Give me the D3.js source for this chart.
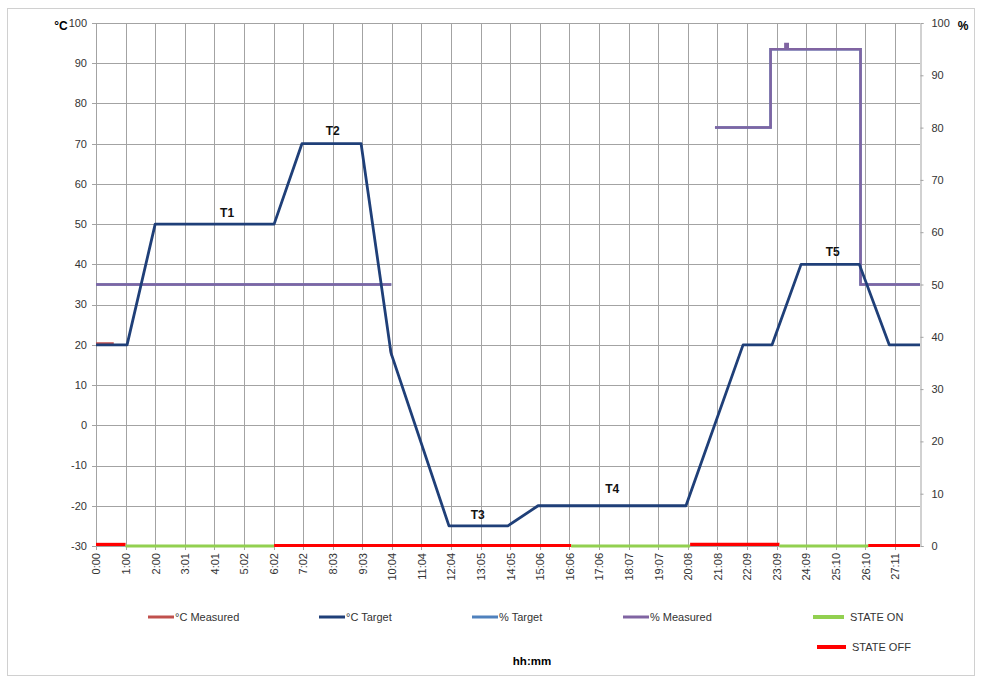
<!DOCTYPE html>
<html>
<head>
<meta charset="utf-8">
<script src="https://cdn.jsdelivr.net/npm/d3@7"></script>
<style>
  body { margin: 0; background: #fff; }
  svg { font-family: "Liberation Sans", Arial, sans-serif; }
</style>
</head>
<body>
<div id="chart"></div>
<script>
// x axis labels, one per gridline (index = hours elapsed)
const timeLabels = ["0:00","1:00","2:00","3:01","4:01","5:02","6:02","7:02","8:03","9:03",
  "10:04","11:04","12:04","13:05","14:05","15:06","16:06","17:06","18:07","19:07",
  "20:08","21:08","22:09","23:09","24:09","25:10","26:10","27:11"];
const xEnd = 27.85;

const tempTicks = [-30,-20,-10,0,10,20,30,40,50,60,70,80,90,100];
const pctTicks = [0,10,20,30,40,50,60,70,80,90,100];

// °C Target
const targetHours = [0,1.05,2.0,6.02,6.96,8.96,9.97,11.93,13.92,14.94,19.94,21.87,22.85,23.83,25.8,26.81,27.85];
const targetTemp  = [20,20,50,50,70,70,18,-25,-25,-20,-20,20,20,40,40,20,20];

// °C Measured (only slivers visible under target)
const measHours = [0,0.6,null,9.93,10.0];
const measTemp  = [20.4,20.4,null,19.5,17.2];

// % Measured (null = gap)
const pctHours  = [0,9.98,null,20.92,22.8,22.8,23.3,23.3,23.38,23.38,25.84,25.84,27.85];
const pctValues = [50,50,null,80,80,95,95,96,96,95,95,50,50];

// % Target (hidden below % Measured)
const pctTargetHours  = [0,9.98,null,20.92,22.8,22.8,25.84,25.84,27.85];
const pctTargetValues = [50,50,null,80,80,95,95,50,50];

// STATE segments
const stateHours = [0,1,6.02,16.06,20.08,23.1,26.1,27.85];
const stateOn    = [false,true,false,true,false,true,false];
const stateLevel = [0.3,0,0.1,0,0.3,0,0.1];

// annotations
const tNames = ["T1","T2","T3","T4","T5"];
const tHours = [4.43,8.0,12.9,17.45,24.9];
const tTemp  = [52.8,73.2,-22.3,-15.9,43.2];

const W = 982, H = 679;
const mLeft = 96, mRight = 920, mTop = 23, mBottom = 546;

const svg = d3.select("#chart").append("svg")
  .attr("width", W).attr("height", H);

svg.append("rect")
  .attr("x", 7.5).attr("y", 8.5).attr("width", 967).attr("height", 667)
  .attr("fill", "none").attr("stroke", "#d0d0d0");

const x = d3.scaleLinear().domain([0, xEnd]).range([mLeft, mRight]);
const yL = d3.scaleLinear().domain([-30, 100]).range([mBottom, mTop]);
const yR = d3.scaleLinear().domain([0, 100]).range([mBottom, mTop]);

const grid = svg.append("g").attr("stroke", "#a3a3a3").attr("stroke-width", 1);
grid.selectAll("line.h").data(tempTicks).enter().append("line")
  .attr("x1", mLeft - 4).attr("x2", mRight)
  .attr("y1", d => Math.round(yL(d)) + 0.5).attr("y2", d => Math.round(yL(d)) + 0.5);
grid.selectAll("line.v").data(timeLabels).enter().append("line")
  .attr("x1", (d, i) => Math.round(x(i)) + 0.5).attr("x2", (d, i) => Math.round(x(i)) + 0.5)
  .attr("y1", mTop).attr("y2", mBottom + 4);

// right axis
const rAxis = svg.append("g")
  .attr("transform", `translate(${mRight + 0.5},0)`)
  .call(d3.axisRight(yR).tickValues(pctTicks).tickSize(3).tickPadding(8));
rAxis.select(".domain").attr("stroke", "#a3a3a3");
rAxis.selectAll(".tick line").attr("stroke", "#a3a3a3");
rAxis.selectAll("text").attr("font-size", 11).attr("fill", "#333")
  .attr("font-family", "Liberation Sans, Arial, sans-serif");

// left labels
svg.append("g").selectAll("text").data(tempTicks).enter().append("text")
  .attr("x", 87).attr("y", d => yL(d)).attr("dy", "0.35em")
  .attr("text-anchor", "end").attr("font-size", 11).attr("fill", "#333")
  .text(d => d);

// x labels
svg.append("g").selectAll("text").data(timeLabels).enter().append("text")
  .attr("transform", (d, i) => `translate(${x(i) + 0.5},553) rotate(-90)`)
  .attr("dy", "0.35em").attr("text-anchor", "end")
  .attr("font-size", 11).attr("fill", "#333")
  .text(d => d);

svg.append("text").attr("x", 61).attr("y", 30).attr("text-anchor", "middle")
  .attr("font-size", 12).attr("font-weight", "bold").text("°C");
svg.append("text").attr("x", 963).attr("y", 30).attr("text-anchor", "middle")
  .attr("font-size", 12).attr("font-weight", "bold").text("%");

function pts(xs, ys) { return xs.map((h, i) => [h, ys[i]]); }
const lineL = d3.line().defined(d => d[0] !== null).x(d => x(d[0])).y(d => yL(d[1]));
const lineR = d3.line().defined(d => d[0] !== null).x(d => x(d[0])).y(d => yR(d[1]));

// state lines
stateOn.forEach((on, i) => {
  svg.append("path")
    .attr("d", lineR([[stateHours[i], stateLevel[i]], [stateHours[i + 1], stateLevel[i]]]))
    .attr("stroke", on ? "#92d050" : "#ff0000").attr("stroke-width", 3.2)
    .attr("fill", "none");
});

svg.append("path").attr("d", lineR(pts(pctTargetHours, pctTargetValues)))
  .attr("fill", "none").attr("stroke", "#4f81bd").attr("stroke-width", 2.5);
svg.append("path").attr("d", lineR(pts(pctHours, pctValues)))
  .attr("fill", "none").attr("stroke", "#8064a2").attr("stroke-width", 2.5);
svg.append("path").attr("d", lineL(pts(measHours, measTemp)))
  .attr("fill", "none").attr("stroke", "#c0504d").attr("stroke-width", 2.2);
svg.append("path").attr("d", lineL(pts(targetHours, targetTemp)))
  .attr("fill", "none").attr("stroke", "#1f3f78").attr("stroke-width", 2.8)
  .attr("stroke-linejoin", "round");

svg.append("g").selectAll("text").data(tNames).enter().append("text")
  .attr("x", (d, i) => x(tHours[i])).attr("y", (d, i) => yL(tTemp[i])).attr("dy", "0.35em")
  .attr("text-anchor", "middle").attr("font-size", 12).attr("font-weight", "bold")
  .attr("fill", "#111").text(d => d);

// legend
const legendNames = ["°C Measured","°C Target","% Target","% Measured","STATE ON","STATE OFF"];
const legendColors = ["#c0504d","#1f3f78","#4f81bd","#8064a2","#92d050","#ff0000"];
const legendLayout = [
  { sx: 148, sw: 26, tx: 175, y: 617, w: 3 },
  { sx: 319, sw: 26, tx: 346, y: 617, w: 3 },
  { sx: 472, sw: 26, tx: 499, y: 617, w: 3 },
  { sx: 623, sw: 26, tx: 650, y: 617, w: 3 },
  { sx: 813, sw: 31, tx: 850, y: 617, w: 4 },
  { sx: 817, sw: 29, tx: 852, y: 647, w: 4 }
];
const lg = svg.append("g");
legendNames.forEach((name, i) => {
  const L = legendLayout[i];
  lg.append("line").attr("x1", L.sx).attr("x2", L.sx + L.sw)
    .attr("y1", L.y).attr("y2", L.y)
    .attr("stroke", legendColors[i]).attr("stroke-width", L.w);
  lg.append("text").attr("x", L.tx).attr("y", L.y).attr("dy", "0.35em")
    .attr("font-size", 11).attr("fill", "#333").text(name);
});

svg.append("text").attr("x", 532).attr("y", 661).attr("dy", "0.35em")
  .attr("text-anchor", "middle").attr("font-size", 11.5).attr("font-weight", "bold")
  .text("hh:mm");
</script>
</body>
</html>
